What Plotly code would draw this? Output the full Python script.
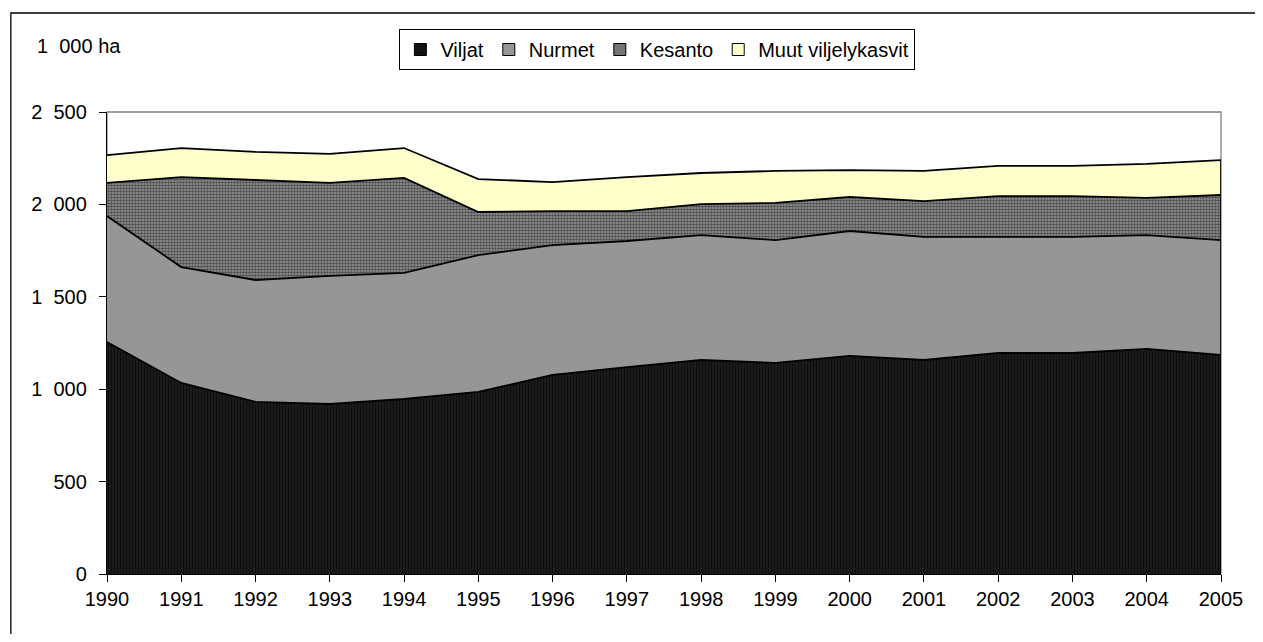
import plotly.graph_objects as go

years = list(range(1990, 2006))
viljat = [1255, 1034, 931, 920, 947, 985, 1077, 1120, 1158, 1142, 1180, 1158, 1196, 1196, 1218, 1185]
nurmet = [682, 627, 660, 693, 682, 741, 703, 682, 676, 665, 676, 666, 628, 628, 616, 622]
kesanto = [179, 487, 541, 503, 514, 233, 184, 162, 168, 201, 184, 194, 221, 221, 201, 244]
muut = [151, 157, 152, 157, 162, 178, 157, 184, 168, 173, 146, 163, 163, 163, 184, 189]
y_ticks = [0, 500, 1000, 1500, 2000, 2500]
y_ticktext = ["0", "500", "1\u2007000", "1\u2007500", "2\u2007000", "2\u2007500"]

OFF = 8  # default body margin of the page
W, H = 1263 - 2 * OFF, 642 - 2 * OFF
L, R, T, B = 107 - OFF, 1231 - OFF, 112 - OFF, 574 - OFF

fig = go.Figure()
series = [
    ("Viljat", viljat, "#111111", dict(shape="|", fgcolor="#000000", bgcolor="#1c1c1c", size=3, solidity=0.4)),
    ("Nurmet", nurmet, "#969696", None),
    ("Kesanto", kesanto, "#666666", dict(shape=".", fgcolor="#000000", bgcolor="#9a9a9a", size=3, solidity=0.6)),
    ("Muut viljelykasvit", muut, "#FFFFCC", None),
]
for name, vals, col, pat in series:
    kw = dict(
        x=years, y=vals, name=name, mode="lines", stackgroup="one",
        line=dict(color="#000000", width=1.8), fillcolor=col, showlegend=False,
    )
    if pat:
        kw["fillpattern"] = pat
    fig.add_trace(go.Scatter(**kw))

# legend entries with square symbols
legend_cols = {"Viljat": "#111111", "Nurmet": "#969696", "Kesanto": "#747474", "Muut viljelykasvit": "#FFFFCC"}
for name, vals, col, pat in series:
    fig.add_trace(go.Scatter(x=[None], y=[None], name=name, mode="markers",
                             marker=dict(symbol="square", size=12, color=legend_cols[name],
                                         line=dict(color="#000000", width=1)),
                             showlegend=True))

total_last = viljat[-1] + nurmet[-1] + kesanto[-1] + muut[-1]
fig.add_trace(go.Scatter(x=[years[-1], years[-1]], y=[0, total_last], mode="lines",
                         line=dict(color="#000000", width=1.8), showlegend=False, hoverinfo="skip"))

pw, ph = R - L, B - T
def px(x):
    return (x - OFF - L) / pw
def py(y):
    return (B - (y - OFF)) / ph

# outer frame
fig.add_shape(type="rect", xref="paper", yref="paper",
              x0=px(10), x1=px(1275), y0=py(680), y1=py(13),
              line=dict(color="#000000", width=1.3), layer="below")
# plot area border
fig.add_shape(type="rect", xref="paper", yref="paper", x0=0, x1=1, y0=0, y1=1,
              line=dict(color="#808080", width=1.3), layer="below")

fig.add_annotation(text="1\u2007000 ha", xref="paper", yref="paper", x=px(34), y=py(46),
                   xanchor="left", yanchor="middle", showarrow=False,
                   font=dict(size=20, color="#000000"))

fig.update_layout(
    width=W, height=H,
    margin=dict(l=L, r=W - R, t=T, b=H - B),
    paper_bgcolor="white", plot_bgcolor="white",
    font=dict(family="Liberation Sans, Arial, sans-serif", size=20, color="#000000"),
    showlegend=True,
    legend=dict(orientation="h", x=px(402), y=py(29), xanchor="left", yanchor="top",
                bordercolor="#000000", borderwidth=1, bgcolor="white",
                font=dict(size=20), itemwidth=30, tracegroupgap=0, traceorder="normal"),
    xaxis=dict(range=[1990, 2005], tickmode="array", tickvals=years, ticks="outside",
               ticklen=7, tickcolor="#000000", showgrid=False, zeroline=False,
               showline=True, linecolor="#000000", linewidth=1.3, tickfont=dict(size=20)),
    yaxis=dict(range=[0, 2500], tickmode="array", tickvals=y_ticks, ticktext=y_ticktext,
               ticks="outside", ticklen=7, tickcolor="#000000", showgrid=False, zeroline=False,
               showline=True, linecolor="#000000", linewidth=1.3,
               tickfont=dict(size=20), ticklabelstandoff=8),
)

fig.write_html("out.html")
